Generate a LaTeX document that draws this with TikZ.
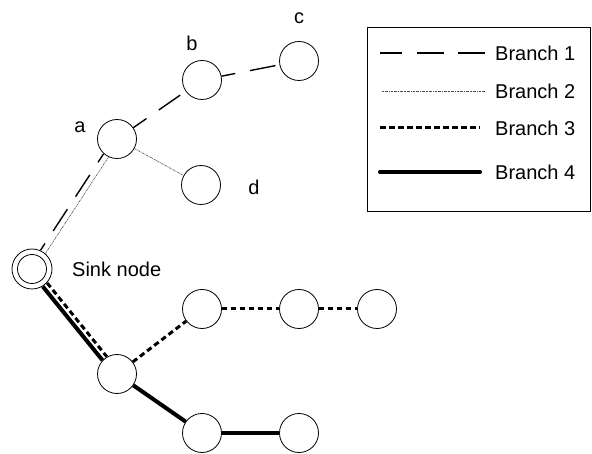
\documentclass[tikz,border=0pt]{standalone}
\usepackage{fontspec}
\setmainfont{Liberation Sans}
\begin{document}
\begin{tikzpicture}[x=1pt,y=-1pt,
  nd/.style={draw,circle,line width=0.8pt,minimum size=39pt,inner sep=0pt},
  lbl/.style={font=\fontsize{20}{24}\selectfont,inner sep=0pt},
  brone/.style={line width=1.4pt,dash pattern=on 26pt off 15pt},
  brtwo/.style={line width=0.6pt,black!70,dash pattern=on 2pt off 0.8pt on 0.8pt off 0.8pt},
  brthree/.style={line width=3pt,dash pattern=on 5.5pt off 3.5pt},
  brfour/.style={line width=4pt,line cap=round}]
\useasboundingbox (0,0) rectangle (592,454);
% nodes
\node[nd,minimum size=40pt] (s) at (32,269) {};
\node[nd,minimum size=29pt] (sin) at (32,269) {};
\node[nd] (a) at (117,139) {};
\node[nd] (b) at (202,80) {};
\node[nd] (c) at (299,61) {};
\node[nd] (d) at (201,185) {};
\node[nd] (e) at (117,374) {};
\node[nd] (f) at (202,309) {};
\node[nd] (g) at (299,309) {};
\node[nd] (h) at (377,309) {};
\node[nd] (i) at (202,433) {};
\node[nd] (j) at (299,433) {};
% labels
\node[lbl] (la) at (80,127) {a};
\node[lbl] (lb) at (192,43) {b};
\node[lbl] (lc) at (299,18) {c};
\node[lbl] (ld) at (254,187) {d};
\node[lbl,anchor=west] (ls) at (72,269) {Sink node};
% edges
\draw[brone,dash phase=18pt,transform canvas={xshift=-2.6pt,yshift=1.7pt}] (s) -- (a);
\draw[brtwo,transform canvas={xshift=2.3pt,yshift=-1.5pt}] (s) -- (a);
\draw[brone,dash phase=10pt] (a) -- (b);
\draw[brone,dash phase=12pt] (b) -- (c);
\draw[brtwo] (a) -- (d);
\draw[brthree,transform canvas={xshift=2.3pt,yshift=1.9pt}] (s) -- (e);
\draw[brfour,line cap=butt,transform canvas={xshift=-2pt,yshift=-1.7pt}] (s) -- (e);
\draw[brthree] (e) -- (f);
\draw[brthree] (f) -- (g);
\draw[brthree] (g) -- (h);
\draw[brfour,line cap=butt] (e) -- (i);
\draw[brfour,line cap=butt] (i) -- (j);
% legend
\node[draw,line width=0.8pt,anchor=north west,minimum width=223pt,minimum height=184pt,inner sep=0pt] (legend) at (367,27) {};
\coordinate (l1a) at (380,53); \coordinate (l1b) at (485,53);
\coordinate (l2a) at (382,91); \coordinate (l2b) at (486,91);
\coordinate (l3a) at (380,128); \coordinate (l3b) at (480,128);
\coordinate (l4a) at (380,172); \coordinate (l4b) at (480,172);
\draw[brone,dash pattern=on 22pt off 15pt on 27pt off 14pt on 27pt off 14pt] (l1a) -- (l1b);
\draw[brtwo] (l2a) -- (l2b);
\draw[brthree] (l3a) -- (l3b);
\draw[brfour] (l4a) -- (l4b);
\node[lbl,anchor=west] (t1) at (495,53) {Branch 1};
\node[lbl,anchor=west] (t2) at (495,91) {Branch 2};
\node[lbl,anchor=west] (t3) at (495,128) {Branch 3};
\node[lbl,anchor=west] (t4) at (495,172) {Branch 4};
\end{tikzpicture}
\end{document}
